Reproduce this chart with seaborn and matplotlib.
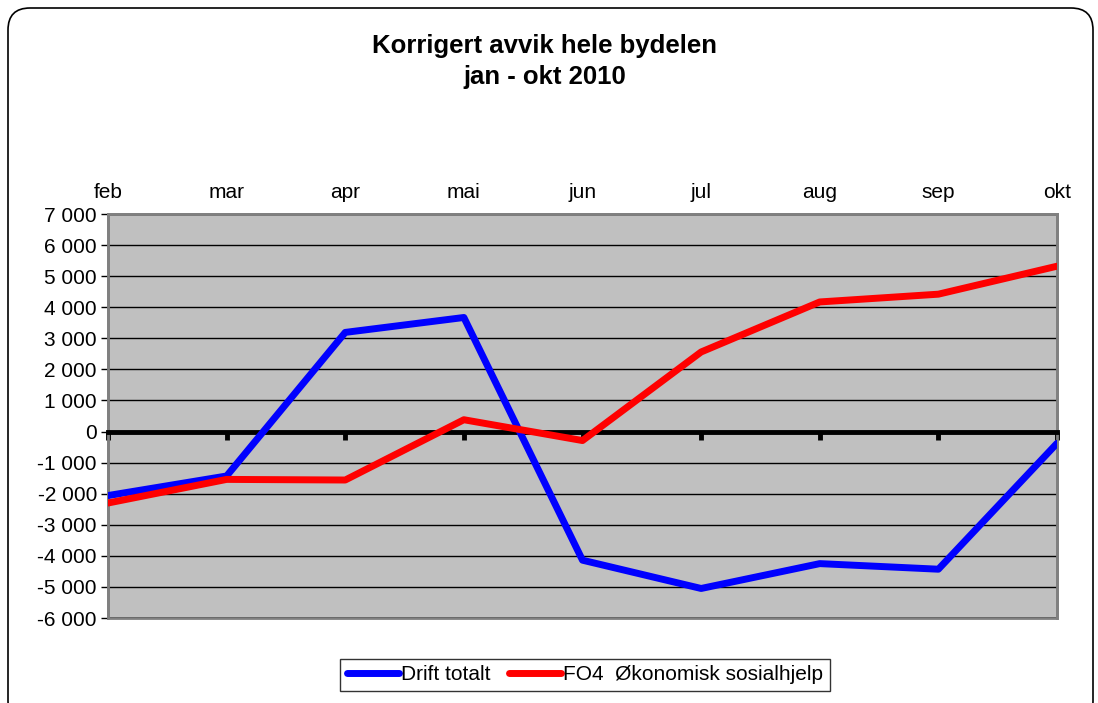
import matplotlib
matplotlib.use("Agg")
import matplotlib.pyplot as plt
import matplotlib.patches as mpatches
import matplotlib.ticker as mticker
import seaborn as sns
import pandas as pd

months = ["feb", "mar", "apr", "mai", "jun", "jul", "aug", "sep", "okt"]
drift_totalt = [-2060, -1430, 3190, 3670, -4140, -5050, -4250, -4430, -380]
sosialhjelp = [-2300, -1540, -1560, 380, -290, 2560, 4170, 4420, 5320]
series_names = ["Drift totalt", "FO4  Økonomisk sosialhjelp"]
yticks = list(range(-6000, 7001, 1000))

df = pd.DataFrame({
    "month": months * 2,
    "value": drift_totalt + sosialhjelp,
    "series": [series_names[0]] * len(months) + [series_names[1]] * len(months),
})

sns.set_style("white")
plt.rcParams["font.family"] = ["Liberation Sans", "DejaVu Sans"]
plt.rcParams["text.color"] = "black"
plt.rcParams["xtick.color"] = "black"
plt.rcParams["ytick.color"] = "black"
plt.rcParams["xtick.labelcolor"] = "black"
plt.rcParams["ytick.labelcolor"] = "black"

fig = plt.figure(figsize=(10.98, 7.03), dpi=100)
ax = fig.add_axes([108/1098, 1-618/703, (1057-108)/1098, (618-214)/703])
ax.set_facecolor("#C0C0C0")

sns.lineplot(data=df, x="month", y="value", hue="series", sort=False,
             palette=["#0000FF", "#FF0000"], linewidth=5, ax=ax,
             legend=True, zorder=5)

ax.set_xlim(0, len(months) - 1)
ax.set_ylim(yticks[0], yticks[-1])
ax.set_yticks(yticks)
ax.yaxis.set_major_formatter(mticker.FuncFormatter(
    lambda v, p: f"{int(v):,}".replace(",", " ")))
ax.grid(axis="y", color="black", linewidth=1)
ax.grid(axis="x", visible=False)
ax.set_axisbelow(True)

for s in ["left", "top", "right"]:
    ax.spines[s].set_color("#808080")
    ax.spines[s].set_linewidth(2)
ax.spines["bottom"].set_position(("data", 0))
ax.spines["bottom"].set_color("black")
ax.spines["bottom"].set_linewidth(3.5)
ax.spines["bottom"].set_zorder(4)
ax.patch.set_edgecolor("#808080")
ax.patch.set_linewidth(2)

ax.tick_params(axis="x", bottom=True, top=False, labelbottom=False, labeltop=True,
               direction="out", length=6, width=3.5, color="black",
               labelsize=15, pad=3, labelcolor="black")
ax.tick_params(axis="y", left=True, direction="out", length=5, width=1,
               color="black", labelsize=15, pad=3, labelcolor="black")
ax.set_xlabel("")
ax.set_ylabel("")

leg = ax.legend(loc="center", bbox_to_anchor=(585/1098, 1-675/703),
                bbox_transform=fig.transFigure, ncol=2, fontsize=15,
                frameon=True, fancybox=False, edgecolor="black",
                handlelength=2.5, handletextpad=0.1, columnspacing=0.9,
                borderpad=0.3, title=None)
leg.get_frame().set_linewidth(1)
for h in leg.get_lines():
    h.set_linewidth(5)
    h.set_solid_capstyle("round")
for t in leg.get_texts():
    t.set_color("black")

fig.text(545/1098, 1-34/703, "Korrigert avvik hele bydelen\njan - okt 2010",
         ha="center", va="top", fontsize=18.5, fontweight="bold",
         linespacing=1.38, color="black")

border = mpatches.FancyBboxPatch((8, -20), 1085, 715,
                                 boxstyle="round,pad=0,rounding_size=22",
                                 transform=None, facecolor="none",
                                 edgecolor="black", linewidth=1.2)
fig.patches.append(border)

fig.savefig("out.png", dpi=100)
